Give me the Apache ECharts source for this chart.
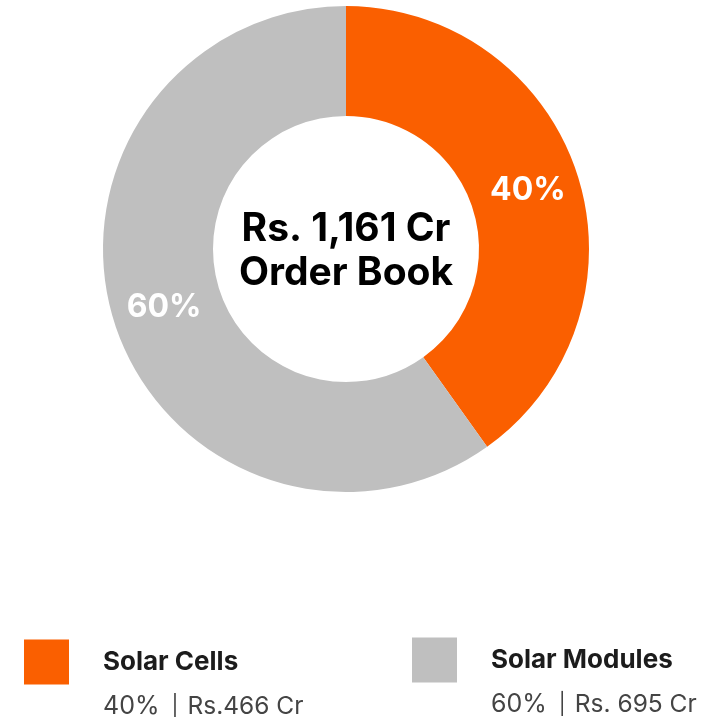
<!DOCTYPE html>
<html>
<head>
<meta charset="utf-8">
<script src="https://cdn.jsdelivr.net/npm/echarts@6/dist/echarts.min.js"></script>
<style>
  html, body { margin: 0; padding: 0; background: #fff; }
  #chart { width: 712px; height: 717px; }
</style>
</head>
<body>
<div id="chart"></div>
<script>
// data
const categories = ['Solar Cells', 'Solar Modules'];
const values = [466, 695];
const pctLabels = ['40%', '60%'];
const amountLabels = ['Rs.466 Cr', 'Rs. 695 Cr'];
const colors = ['#FA5F00', '#BFBFBF'];
const centerText = 'Rs. 1,161 Cr\nOrder Book';

const font = 'Inter, "Noto Sans", sans-serif';
const legendLeft = [24, 412];
const legendIconMid = [661, 659];

const chart = echarts.init(document.getElementById('chart'));

// 空行让标题行与色块对齐
const legends = categories.map((name, i) => ({
  data: [name],
  left: legendLeft[i],
  top: legendIconMid[i] - 68,
  padding: 0,
  icon: 'rect',
  itemWidth: 45,
  itemHeight: 45,
  selectedMode: false,
  formatter: n => '{e|}\n{t|' + n + '}\n{s0|' + pctLabels[i] + '}{p||}{s|' + amountLabels[i] + '}',
  textStyle: {
    rich: {
      e: { height: 49, lineHeight: 49 },
      t: { fontFamily: font, fontWeight: 'bold', fontSize: 26, color: '#1c1c1c', padding: [0, 0, 0, 29], lineHeight: 40 },
      s0: { fontFamily: font, fontSize: 25, color: '#444', padding: [0, 0, 0, 29], lineHeight: 49 },
      p: { fontFamily: font, fontSize: 21, color: '#444', padding: [0, 9, 0, 12], lineHeight: 49 },
      s: { fontFamily: font, fontSize: 24.5, color: '#444', lineHeight: 49 }
    }
  }
}));

const option = {
  animation: false,
  color: colors,
  legend: legends,
  graphic: [{
    type: 'text',
    x: 346,
    y: 251,
    style: {
      text: centerText,
      fontFamily: font,
      fontWeight: 'bold',
      fontSize: 39,
      lineHeight: 44,
      fill: '#000',
      align: 'center',
      verticalAlign: 'middle'
    }
  }],
  series: [{
    type: 'pie',
    center: [346, 249],
    radius: [133, 243],
    startAngle: 90,
    percentPrecision: 0,
    avoidLabelOverlap: false,
    label: {
      position: 'inside',
      formatter: '{d}%',
      color: '#fff',
      fontFamily: font,
      fontWeight: 'bold',
      fontSize: 32
    },
    labelLine: { show: false },
    emphasis: { disabled: true },
    data: categories.map((name, i) => ({ name, value: values[i] }))
  }]
};

chart.setOption(option);
</script>
</body>
</html>
